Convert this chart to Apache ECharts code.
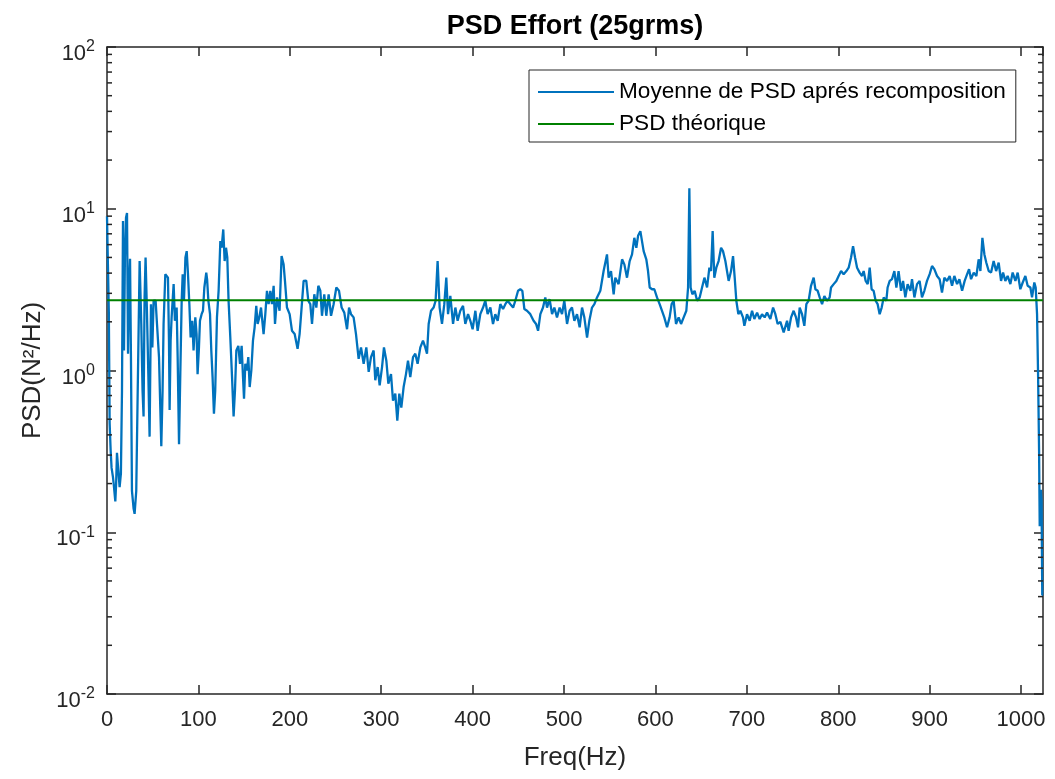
<!DOCTYPE html>
<html>
<head>
<meta charset="utf-8">
<script src="https://cdn.jsdelivr.net/npm/echarts@6/dist/echarts.min.js"></script>
<style>
html, body { margin: 0; padding: 0; background: #fff; }
#chart { width: 1055px; height: 779px; }
</style>
</head>
<body>
<div id="chart"></div>
<script>
// frequences (Hz) et PSD moyenne (N²/Hz)
var freqHz = [
    0, 1, 2, 2.9, 4, 5, 6.5, 7.3, 9.1, 10, 10.9, 12.3, 13.8, 15.2, 16.4, 17.5, 18.6, 19.6, 20.8, 21.9,
    23, 24, 25.2, 26.2, 27.3, 29.1, 30.2, 32, 33.6, 35.7, 37.5, 38.9, 40, 41.1, 42.2, 43.6, 45.2, 46.6, 48.1, 49.6,
    51, 53.2, 54.7, 56.9, 58.3, 59.4, 60.8, 61.9, 63.8, 66.7, 67.8, 68.5, 69.6, 70.7, 72.9, 74.3, 76.2, 77.3, 78.8, 80.2,
    81.7, 82.8, 84.2, 85.8, 87.2, 88.6, 90.1, 91.5, 93.3, 94.7, 96.6, 98, 99.1, 100.6, 101.7, 103.5, 105, 106.5, 108.6, 109.5,
    110.9, 112.7, 114.1, 115.5, 117, 118.4, 120.3, 122.1, 124, 125.4, 127.2, 128.7, 130.2, 131.6, 133, 134.9, 136.8, 138.5, 140, 141.5,
    143.7, 145.5, 147.3, 148.8, 149.9, 151.3, 153.2, 154.6, 156.1, 157.9, 159.7, 161.5, 163.3, 164.8, 166.6,
    168.5, 171.3, 173.2, 175, 176.8, 178.7, 180.5, 182.3, 183.8, 186, 188.8, 191, 193.2, 194.7, 196.9, 199.8, 202.4, 205.3, 208.5, 210.7,
    212.9, 215.1, 218, 220.2, 222.4, 224.3, 226.8, 229, 231.2, 233.4, 235.2, 237.7, 239.9, 242.5, 245.1, 247.9, 250.9, 253.8, 256.7, 259.6,
    262.6, 264.8, 267, 269.8, 272.4, 275.3, 277.9, 280.8, 283.7, 286.3, 288.8, 291.7, 293.5, 296.1, 298.3, 300.9, 303, 305.6, 307.8, 310.7,
    312.9, 315.4, 317.6, 319.8, 322, 324.5, 327.1, 329.3, 331.8, 334.8, 337.3, 339.8, 342.8, 345.7, 348.2, 350.1, 351.9, 354.5, 357.3, 359.5,
    361.7, 363.9, 366.5, 369, 371.2, 373.1, 375.6, 378.6, 381.1, 383.6, 386.5, 389.5, 392, 395, 397.5, 400, 403, 405.5, 408.4, 411.4,
    413.9, 416.4, 419.4, 422.3, 424.8, 427.4, 430.3, 433.3, 435.8, 438.3, 441.3, 444.3, 446.7, 449.7, 452.2, 454.4, 456.6, 459.5, 463.1, 466.7,
    469.4, 471.6, 474.1, 477, 479.5, 481.4, 484.2, 486.9, 489.4, 492.3, 495.2, 497.8, 500.3, 503.3, 506.1, 508.7, 511.3, 514.2, 517.1, 519.7,
    522.2, 525.2, 527.7, 530.6, 533.2, 536.1,
    539.7, 543.3, 547, 548.8, 551.4, 554.3, 556.1, 559.7, 563.5, 566, 568.9, 571.8, 574.4, 576.9, 579.1, 581, 583.5, 585.3, 587.1, 590,
    591.9, 593.7, 596.3, 598.8, 601.7, 604.6, 607.2, 609.7, 612.7, 615.5, 617.7, 619.9, 622.5, 625.4, 628, 630.9, 633.8, 635.7, 637.1, 638.5,
    640.4, 642.9, 645.6, 648.4, 651, 653.6, 656.5, 659, 660.8, 662.6, 664.4, 666.6, 669.1, 671.8, 673.9, 676.5, 678.3, 680.1, 682.7, 684.9,
    686.7, 688.5, 690.7, 692.9, 695.8, 697.3, 700.2, 703.1, 705.7, 708.2, 711.2, 714, 716.6, 719.5, 722.1, 725.7, 728.7, 731.2, 733.7,
    736.7, 740.3, 744, 745.7, 748.4, 751.2, 753.8, 756, 757.8, 760.4, 762.9, 765.1, 767.6, 770.2, 773.1, 775, 777.5, 779.7, 782.3, 784.8,
    787.7, 790.6, 792.1, 795, 797.9, 800.4, 803.1, 805.9, 808.9, 811.4, 814, 816.2, 818.4, 820.6, 823.4, 826, 827.8, 830, 832.2, 834.4,
    836.5, 838.7, 840.9, 843.1, 845.3, 847.5, 849.7, 852.6, 854, 856.3, 858.8, 861.4, 863.6, 866, 868.7, 870.9, 873.4, 875.9, 878.9, 880.7,
    883.3, 886.2, 889, 891.6, 894.2, 897.1, 900, 902.6, 905.1, 908.1, 910.9, 913.5, 916.1, 919, 921.9, 924.5, 927, 930, 932.5, 935.5,
    938.3, 941, 943.1, 945.3, 948.2, 951.1, 953.6, 955.5, 957.7, 959.9, 962, 964.6, 967.2, 970, 972.7, 975.5, 978.1, 980.3, 982.8, 985.3,
    988.3, 990.8, 993.8, 996.3, 999.2, 1001.8, 1004.7, 1007.2, 1010.2, 1012, 1014.5, 1016, 1017.5, 1018.6, 1019.7, 1020.4, 1021.6, 1022.4, 1023.2, 1024
];
var psdMean = [
    9.0, 4.5, 2.3, 0.47, 0.32, 0.25, 0.22, 0.20, 0.155, 0.20, 0.31, 0.31, 0.19, 0.23, 0.75, 8.4, 1.33, 5.0, 8.8, 9.4,
    1.27, 3.1, 4.9, 1.21, 0.18, 0.14, 0.13, 0.18, 0.75, 4.75, 1.94, 0.75, 0.52, 2.83, 5.0, 2.45, 0.96, 0.39, 2.57, 1.39,
    2.7, 2.7, 1.94, 1.21, 0.59, 0.34, 0.75, 1.94, 3.94, 3.75, 1.53, 0.57, 1.53, 2.13, 3.42, 2.03, 2.45, 1.21, 0.35, 0.96,
    2.7, 3.94, 2.7, 5.0, 5.47, 3.94, 2.57, 1.6, 2.03, 1.33, 2.13, 1.68, 0.95, 1.39, 2.03, 2.23, 2.34, 3.26, 4.03, 3.67,
    2.7, 2.23, 1.33, 0.91, 0.54, 0.75, 2.13, 3.11, 6.31, 5.74, 7.45, 4.75, 5.74, 5.0, 2.7, 1.6, 0.91, 0.52, 0.75, 1.33,
    1.42, 1.1, 1.42, 0.91, 0.67, 1.1, 1.0, 1.21, 0.79, 1.0, 1.53, 1.85, 2.51, 1.94, 2.13,
    2.45, 1.68, 2.23, 3.11, 2.57, 3.11, 2.57, 3.34, 1.94, 2.83, 2.34, 5.1, 4.53, 3.58, 2.45, 2.23, 1.76, 1.68, 1.36, 1.68,
    2.45, 3.58, 3.6, 2.7, 2.57, 1.94, 2.96, 2.45, 3.34, 3.11, 2.18, 2.96, 2.18, 2.96, 2.18, 2.57, 3.26, 3.11, 2.45, 2.28,
    1.8, 2.45, 2.23, 2.13, 1.68, 1.18, 1.39, 1.1, 1.39, 0.98, 1.21, 1.33, 0.87, 1.05, 0.81, 1.05, 1.39, 1.15, 0.83, 0.95,
    0.65, 0.72, 0.49, 0.72, 0.59, 0.79, 0.95, 1.15, 0.91, 1.21, 1.27, 1.1, 1.39, 1.53, 1.39, 1.27, 1.94, 2.34, 2.45, 2.7,
    4.75, 2.45, 1.94, 2.57, 3.75, 2.23, 2.89, 1.94, 2.45, 2.03, 2.34, 2.51, 1.94, 2.23, 2.03, 1.8, 2.34, 1.76, 2.23, 2.45,
    2.7, 2.23, 2.45, 1.94, 2.23, 2.03, 2.57, 2.4, 2.57, 2.7, 2.57, 2.45, 2.7, 3.11, 3.18, 3.11, 2.4, 2.34, 2.23, 2.03,
    1.94, 1.76, 2.23, 2.45, 2.83, 2.45, 2.76, 2.23, 2.45, 2.13, 2.45, 2.23, 2.7, 1.94, 2.34, 2.45, 2.03, 2.23, 1.85, 2.45,
    2.13, 1.6, 2.03, 2.45, 2.57, 2.83,
    3.11, 4.12, 5.22, 3.75, 4.12, 2.96, 3.75, 3.42, 4.87, 4.53, 3.75, 4.75, 5.22, 6.61, 5.74, 6.8, 7.27, 6.31, 5.47, 4.87,
    4.12, 3.26, 3.18, 3.18, 2.83, 2.57, 2.34, 2.13, 1.85, 2.13, 2.57, 2.7, 1.94, 2.13, 1.94, 2.13, 2.34, 3.26, 13.4, 3.26,
    2.96, 3.11, 2.7, 2.83, 3.26, 3.75, 3.26, 4.32, 4.12, 7.27, 3.75, 4.32, 4.75, 5.74, 5.47, 4.75, 4.12, 3.58, 4.12, 5.1,
    3.75, 2.7, 2.23, 2.34, 2.13, 1.89, 2.23, 2.03, 2.34, 2.08, 2.28, 2.08, 2.23, 2.13, 2.28, 2.08, 2.45, 2.23, 1.94,
    2.0, 1.72, 2.03, 1.76, 2.13, 2.34, 2.13, 1.85, 2.45, 2.23, 1.89, 2.57, 2.7, 3.34, 3.75, 3.18, 3.11, 2.83, 2.57, 2.89,
    2.7, 2.83, 3.26, 3.42, 3.58, 3.84, 4.12, 3.94, 4.12, 4.32, 5.0, 5.87, 5.0, 4.32, 4.03, 3.84, 4.12, 3.58, 3.42, 4.32,
    3.18, 3.11, 2.7, 2.57, 2.23, 2.45, 2.83, 2.7, 3.26, 3.58, 3.67, 4.12, 3.26, 4.12, 3.11, 3.58, 2.83, 3.42, 3.11, 3.67,
    2.83, 3.42, 3.58, 2.83, 3.11, 3.58, 3.94, 4.43, 4.23, 3.84, 3.67, 3.03, 3.75, 3.58, 3.84, 3.34, 3.84, 3.42, 3.67, 3.11,
    3.58, 3.94, 4.23, 3.67, 4.03, 3.84, 4.87, 4.12, 6.61, 5.22, 4.64, 4.12, 4.03, 4.75, 4.12, 4.64, 3.58, 4.03, 3.58, 3.84,
    3.42, 4.03, 3.58, 4.03, 3.18, 3.5, 3.84, 3.34, 3.26, 2.83, 3.5, 3.26, 2.23, 0.95, 0.32, 0.109, 0.183, 0.158, 0.041, 0.041
];
var theoFreq = [0, 1024];
var theoPsd = [2.72, 2.72];
var xTicks = [0, 100, 200, 300, 400, 500, 600, 700, 800, 900, 1000];
var decades = [0.01, 0.1, 1, 10];
var minorSteps = [2, 3, 4, 5, 6, 7, 8, 9];
var seriesNames = ['Moyenne de PSD aprés recomposition', 'PSD théorique'];

var FONT = '"Liberation Sans", Arial, Helvetica, sans-serif';
var AXIS = '#262626';

var meanData = freqHz.map(function (f, i) { return [f, psdMean[i]]; });
var theoData = theoFreq.map(function (f, i) { return [f, theoPsd[i]]; });
var minorData = [];
decades.forEach(function (d) {
    minorSteps.forEach(function (m) { minorData.push([0, d * m]); });
});

var xAxisBase = function (pos) {
    return {
        type: 'value',
        position: pos,
        min: 0,
        max: 1024,
        interval: 100,
        axisLine: { show: true, onZero: false, lineStyle: { color: AXIS, width: 1.5 } },
        axisTick: { show: true, inside: true, length: 9, lineStyle: { color: AXIS, width: 1.5 } },
        splitLine: { show: false },
        axisLabel: { show: false }
    };
};
var yAxisBase = function (pos) {
    return {
        type: 'log',
        logBase: 10,
        position: pos,
        min: 0.01,
        max: 100,
        axisLine: { show: true, onZero: false, lineStyle: { color: AXIS, width: 1.5 } },
        axisTick: { show: true, inside: true, length: 9, lineStyle: { color: AXIS, width: 1.5 } },
        splitLine: { show: false },
        axisLabel: { show: false }
    };
};

var xBottom = xAxisBase('bottom');
xBottom.axisLabel = {
    show: true,
    margin: 15,
    color: AXIS,
    fontSize: 22,
    fontFamily: FONT,
    showMaxLabel: false,
    formatter: function (v) {
        return xTicks.indexOf(v) >= 0 ? String(v) : '';
    }
};
xBottom.name = 'Freq(Hz)';
xBottom.nameLocation = 'middle';
xBottom.nameGap = 51;
xBottom.nameTextStyle = { color: AXIS, fontSize: 26, fontFamily: FONT };

var xTop = xAxisBase('top');
xTop.name = 'PSD Effort (25grms)';
xTop.nameLocation = 'middle';
xTop.nameGap = 7;
xTop.nameTextStyle = { color: '#000', fontSize: 27, fontWeight: 'bold', fontFamily: FONT, verticalAlign: 'bottom' };

var yLeft = yAxisBase('left');
yLeft.axisLabel = {
    show: true,
    margin: 12,
    formatter: function (v) {
        var e = Math.round(Math.log(v) / Math.LN10);
        return '{b|10}{e|' + e + '}';
    },
    rich: {
        b: { fontSize: 22, lineHeight: 22, padding: [14, 0, 0, 0], color: AXIS, fontFamily: FONT },
        e: { fontSize: 16, lineHeight: 16, color: AXIS, fontFamily: FONT }
    }
};
yLeft.name = 'PSD(N²/Hz)';
yLeft.nameLocation = 'middle';
yLeft.nameGap = 61;
yLeft.nameTextStyle = { color: AXIS, fontSize: 26, fontFamily: FONT };

var yRight = yAxisBase('right');

var chart = echarts.init(document.getElementById('chart'), null, { renderer: 'canvas' });
chart.setOption({
    animation: false,
    backgroundColor: '#fff',
    grid: { left: 107, right: 12, top: 47, bottom: 85, containLabel: false },
    xAxis: [xBottom, xTop],
    yAxis: [yLeft, yRight],
    legend: {
        orient: 'vertical',
        left: 529,
        top: 70,
        data: seriesNames,
        icon: 'rect',
        itemWidth: 76,
        itemHeight: 2,
        itemGap: 8,
        padding: [10, 10, 6, 9],
        borderColor: AXIS,
        borderWidth: 1,
        borderRadius: 0,
        backgroundColor: '#fff',
        selectedMode: false,
        textStyle: { fontSize: 22.6, lineHeight: 24, color: '#000', fontFamily: FONT }
    },
    series: [
        {
            name: seriesNames[0],
            type: 'line',
            data: meanData,
            showSymbol: false,
            symbol: 'none',
            color: '#0072BD',
            lineStyle: { color: '#0072BD', width: 2.3 },
            z: 2
        },
        {
            name: seriesNames[1],
            type: 'line',
            data: theoData,
            showSymbol: false,
            symbol: 'none',
            color: '#008000',
            lineStyle: { color: '#008000', width: 2 },
            z: 3
        },
        {
            // petites graduations log (2..9) à gauche et à droite
            type: 'custom',
            silent: true,
            data: minorData,
            renderItem: function (params, api) {
                var cs = params.coordSys;
                var y = api.coord([0, api.value(1)])[1];
                var st = { stroke: AXIS, lineWidth: 1.5 };
                return {
                    type: 'group',
                    children: [
                        { type: 'line', shape: { x1: cs.x, y1: y, x2: cs.x + 5, y2: y }, style: st },
                        { type: 'line', shape: { x1: cs.x + cs.width - 5, y1: y, x2: cs.x + cs.width, y2: y }, style: st }
                    ]
                };
            },
            z: 4
        }
    ]
});
</script>
</body>
</html>
